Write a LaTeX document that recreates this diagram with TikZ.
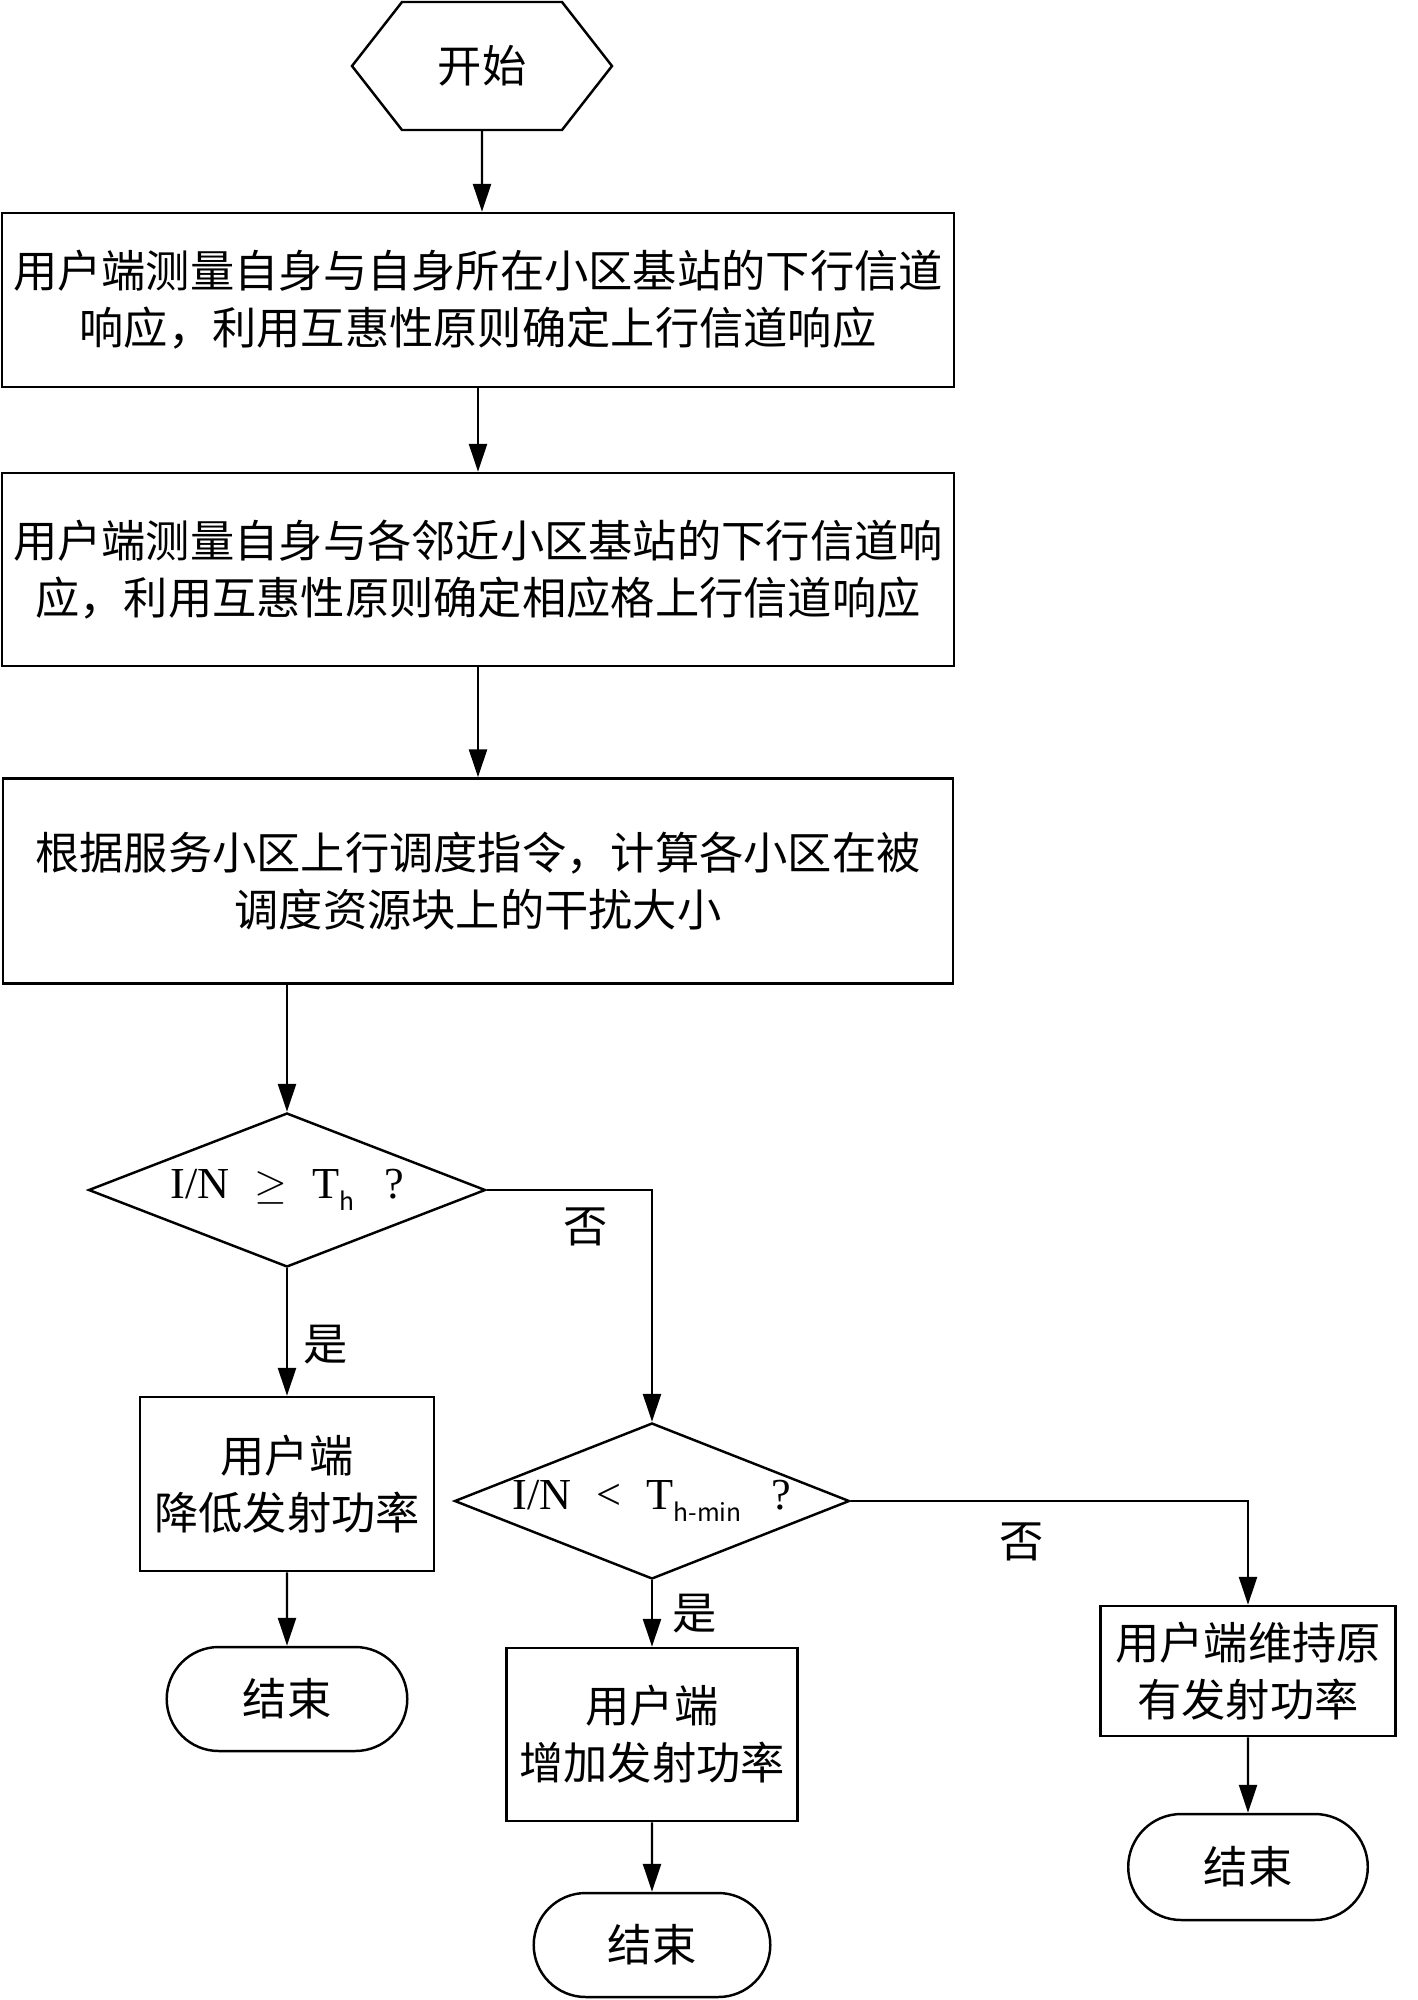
\documentclass[tikz,border=0pt]{standalone}
\usepackage{fontspec}
\setmainfont{Liberation Serif}
\newfontfamily\cjk{Noto Sans CJK SC}
\usetikzlibrary{shapes.geometric, shapes.misc, shapes.symbols}
\usetikzlibrary{arrows.meta, positioning}

\begin{document}
\begin{tikzpicture}[
	every node/.style={font=\cjk\fontsize{12.6}{16.2}\selectfont},
	proc/.style={draw, rectangle, line width=0.7pt, align=center, inner sep=2pt},
	start/.style={draw, signal, signal to=east and west, signal pointer angle=104, minimum width=2.6cm, minimum height=1.28cm, inner sep=0pt, line width=0.7pt},
	test/.style={draw, diamond, aspect=2.55, inner sep=0pt, line width=0.7pt},
	stop/.style={draw, rounded rectangle, minimum height=1.04cm, line width=0.7pt},
	arr/.style={-{Triangle[length=2.8mm,width=1.8mm]}, line width=0.7pt},
	yn/.style={inner sep=0pt}]
	\useasboundingbox (0,0) rectangle (14.17,-20);
    	\node[start] (0) at (4.82,-0.66) {开始};
    	\node[proc, minimum width=9.52cm, minimum height=1.74cm] (1) at (4.78,-3.00) {用户端测量自身与自身所在小区基站的下行信道\\响应，利用互惠性原则确定上行信道响应};
    	\node[proc, minimum width=9.52cm, minimum height=1.93cm] (2) at (4.78,-5.695) {用户端测量自身与各邻近小区基站的下行信道响\\应，利用互惠性原则确定相应格上行信道响应};
    	\node[proc, minimum width=9.50cm, minimum height=2.05cm] (3) at (4.78,-8.81) {根据服务小区上行调度指令，计算各小区在被\\调度资源块上的干扰大小};
    	\node[test, minimum width=3.97cm, minimum height=1.54cm] (4) at (2.87,-11.90) {\rmfamily I/N\hspace{0.25cm}$\geq$\hspace{0.25cm}T\raisebox{-0.6ex}{\cjk\scriptsize h}\hspace{0.3cm}?};
    	\node[proc, minimum width=2.94cm, minimum height=1.74cm] (5) at (2.87,-14.84) {用户端\\降低发射功率};
    	\node[stop, minimum width=2.64cm] (6) at (2.87,-16.99) {结束};
    	\node[test, minimum width=3.95cm, minimum height=1.56cm] (7) at (6.52,-15.01) {\rmfamily I/N\hspace{0.25cm}<\hspace{0.25cm}T\raisebox{-0.6ex}{\cjk\scriptsize h-min}\hspace{0.3cm}?};
    	\node[proc, minimum width=2.91cm, minimum height=1.73cm] (8) at (6.52,-17.345) {用户端\\增加发射功率};
    	\node[stop, minimum width=2.60cm] (9) at (6.52,-19.45) {结束};
    	\node[proc, minimum width=2.95cm, minimum height=1.30cm] (10) at (12.48,-16.71) {用户端维持原\\有发射功率};
    	\node[stop, minimum width=2.63cm, minimum height=1.06cm] (11) at (12.48,-18.67) {结束};
    	\draw [arr] (0)--(0 |- 1.north);
    	\draw [arr] (1)--(2);
    	\draw [arr] (2)--(3);
    	\draw [arr] (4 |- 3.south)--(4);
    	\draw [arr] (4)--(5) node[pos=0.6,right=0.15cm,yn] {是};
    	\draw [arr] (4)-|(7) node[pos=0.3,below=0.17cm,yn] {否};
    	\draw [arr] (5)--(6);
    	\draw [arr] (7)--(8) node[midway,right=0.19cm,yn] {是};
    	\draw [arr] (7)-|(10) node[pos=0.215,below=0.21cm,yn] {否};
    	\draw [arr] (8)--(9);
    	\draw [arr] (10)--(11);
\end{tikzpicture}
\end{document}
